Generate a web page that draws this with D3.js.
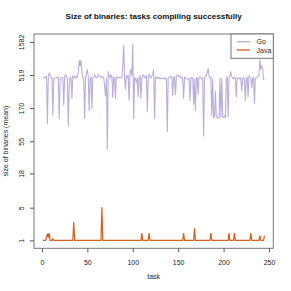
<!DOCTYPE html>
<html>
<head>
<meta charset="utf-8">
<script src="https://cdn.jsdelivr.net/npm/d3@7"></script>
<style>
  body { margin: 0; background: #fff; }
  text { font-family: "Liberation Sans", Arial, sans-serif; }
</style>
</head>
<body>
<script>
// ** Data: mean binary size per task
var goSize = [
  466, 470, 485, 475, 492, 98, 500, 550, 520, 480,
  470, 132, 455, 462, 475, 480, 470, 485, 117, 455,
  470, 480, 465, 188, 500, 525, 490, 470, 92, 350,
  480, 460, 233, 500, 480, 495, 470, 500, 485, 560,
  855, 700, 860, 560, 480, 470, 118, 470, 560, 630,
  480, 154, 470, 480, 163, 473, 490, 520, 485, 470,
  500, 530, 500, 490, 480, 500, 485, 470, 358, 255,
  470, 41, 590, 500, 470, 520, 500, 240, 480, 470,
  233, 490, 470, 475, 480, 470, 475, 480, 700, 1450,
  470, 323, 520, 480, 500, 217, 580, 620, 500, 1500,
  117, 480, 450, 400, 470, 245, 480, 500, 233, 470,
  520, 510, 480, 470, 520, 150, 470, 530, 490, 470,
  510, 520, 630, 117, 480, 470, 490, 460, 475, 460,
  470, 455, 460, 470, 455, 470, 460, 75, 470, 480,
  490, 500, 470, 255, 480, 490, 265, 490, 520, 510,
  490, 500, 470, 480, 460, 233, 480, 470, 465, 455,
  450, 460, 217, 470, 480, 470, 190, 460, 154, 470,
  480, 270, 470, 490, 480, 460, 470, 65, 470, 500,
  510, 560, 650, 500, 470, 480, 130, 460, 124, 126,
  300, 124, 122, 125, 124, 470, 124, 470, 126, 124,
  130, 124, 470, 480, 124, 470, 520, 570, 490, 470,
  460, 480, 470, 245, 470, 460, 470, 455, 470, 300,
  460, 470, 455, 217, 470, 480, 245, 500, 480, 470,
  340, 470, 480, 197, 460, 470, 480, 500, 520, 875,
  620, 700, 650, 450, 460
];
var javaSize = [
  1, 1, 1, 1, 1.2, 1.5, 1.2, 1.55, 1, 1,
  1, 1.1, 1, 1, 1, 1, 1, 1, 1, 1,
  1, 1, 1, 1, 1, 1, 1, 1, 1, 1,
  1, 1, 1, 1, 2.7, 1, 1, 1, 1, 1,
  1, 1, 1, 1, 1, 1, 1, 1, 1, 1,
  1, 1, 1, 1, 1, 1, 1, 1, 1, 1,
  1, 1, 1, 1, 1, 5.1, 1, 1, 1, 1,
  1, 1, 1, 1, 1, 1, 1, 1, 1, 1,
  1, 1, 1, 1, 1, 1, 1, 1, 1, 1,
  1, 1, 1, 1, 1, 1, 1, 1, 1, 1,
  1, 1, 1, 1, 1, 1, 1, 1, 1, 1.55,
  1, 1, 1, 1, 1, 1, 1, 1.55, 1, 1,
  1, 1, 1, 1, 1, 1, 1, 1, 1, 1,
  1, 1, 1, 1, 1, 1, 1, 1, 1, 1,
  1, 1, 1, 1, 1, 1, 1, 1, 1, 1,
  1, 1, 1, 1, 1, 1.55, 1, 1, 1, 1,
  1, 1, 1, 1, 1, 1, 1, 2.0, 1, 1,
  1, 1, 1, 1, 1, 1, 1, 1, 1, 1,
  1, 1, 1, 1, 1, 1.55, 1, 1, 1, 1,
  1, 1, 1, 1, 1, 1, 1, 1, 1, 1,
  1, 1, 1, 1, 1, 1.55, 1, 1, 1, 1,
  1, 1.55, 1, 1, 1, 1, 1, 1, 1, 1,
  1, 1, 1, 1, 1, 1, 1, 1, 1, 1.55,
  1, 1, 1, 1, 1, 1, 1, 1, 1, 1.35,
  1, 1, 1, 1, 1.35
];
var xTicks = [0, 50, 100, 150, 200, 250];
var yTicks = [1, 5, 18, 55, 170, 519, 1582];
var seriesNames = ['Go', 'Java'];
var seriesColors = ['#bcaedb', '#d2601a'];

var W = 291, H = 291;
var pLeft = 34, pRight = 273.3, pTop = 34, pBottom = 248.3;

var svg = d3.select('body').append('svg')
    .attr('width', W).attr('height', H);

// ** x scale, R style 4% padding
var n = goSize.length;
var xPad = 0.04 * (n - 1);
var x = d3.scaleLinear().domain([1 - xPad, n + xPad]).range([pLeft, pRight]);

// ** y scale on log(1 + v), padded 4% in transformed space
var lo = Math.log1p(d3.min(yTicks)), hi = Math.log1p(d3.max(yTicks));
var yPad = 0.04 * (hi - lo);
var y = d3.scaleSymlog().constant(1)
    .domain([Math.expm1(lo - yPad), Math.expm1(hi + yPad)])
    .range([pBottom, pTop]);

var line = d3.line()
    .x(function(d, i){ return x(i + 1); })
    .y(function(d){ return y(d); });

svg.append('path').datum(goSize)
    .attr('d', line).attr('fill', 'none')
    .attr('stroke', seriesColors[0]).attr('stroke-width', 1.1);
svg.append('path').datum(javaSize)
    .attr('d', line).attr('fill', 'none')
    .attr('stroke', seriesColors[1]).attr('stroke-width', 1.2);

// ** Box
svg.append('rect')
    .attr('x', pLeft).attr('y', pTop)
    .attr('width', pRight - pLeft).attr('height', pBottom - pTop)
    .attr('fill', 'none').attr('stroke', '#777').attr('stroke-width', 1);

// ** Axes
var xAxis = svg.append('g').attr('transform', 'translate(0,' + pBottom + ')')
    .call(d3.axisBottom(x).tickValues(xTicks).tickSize(4).tickPadding(8));
xAxis.select('.domain').remove();
xAxis.selectAll('line').attr('stroke', '#555');
xAxis.selectAll('text').attr('font-size', 7).attr('fill', '#222')
    .attr('font-family', '"Liberation Sans", Arial, sans-serif');

var yAxis = svg.append('g').attr('transform', 'translate(' + pLeft + ',0)')
    .call(d3.axisLeft(y).tickValues(yTicks).tickSize(4).tickFormat(d3.format('d')));
yAxis.select('.domain').remove();
yAxis.selectAll('line').attr('stroke', '#555');
yAxis.selectAll('text')
    .attr('font-size', 7).attr('fill', '#222')
    .attr('font-family', '"Liberation Sans", Arial, sans-serif')
    .attr('text-anchor', 'middle')
    .attr('x', 0).attr('dy', 0)
    .attr('transform', 'translate(-10,0) rotate(-90)');

// ** Titles
svg.append('text')
    .attr('x', (pLeft + pRight) / 2).attr('y', 18.5)
    .attr('text-anchor', 'middle')
    .attr('font-size', 8.1).attr('font-weight', 'bold').attr('fill', '#111')
    .text('Size of binaries: tasks compiling successfully');

svg.append('text')
    .attr('x', (pLeft + pRight) / 2).attr('y', 279)
    .attr('text-anchor', 'middle')
    .attr('font-size', 7).attr('fill', '#222')
    .text('task');

svg.append('text')
    .attr('transform', 'translate(7.5,' + ((pTop + pBottom) / 2) + ') rotate(-90)')
    .attr('text-anchor', 'middle')
    .attr('font-size', 7).attr('fill', '#222')
    .text('size of binaries (mean)');

// ** Legend
var lg = svg.append('g');
lg.append('rect')
    .attr('x', 231).attr('y', pTop)
    .attr('width', pRight - 231).attr('height', 24.3)
    .attr('fill', '#fff').attr('stroke', '#777');
seriesNames.forEach(function(name, i){
  var ly = 41.7 + i * 8.3;
  lg.append('line')
      .attr('x1', 236.7).attr('x2', 250)
      .attr('y1', ly).attr('y2', ly)
      .attr('stroke', seriesColors[i]).attr('stroke-width', 1.3);
  lg.append('text')
      .attr('x', 256.5).attr('y', ly + 2.5)
      .attr('font-size', 7).attr('fill', '#222')
      .text(name);
});
</script>
</body>
</html>
